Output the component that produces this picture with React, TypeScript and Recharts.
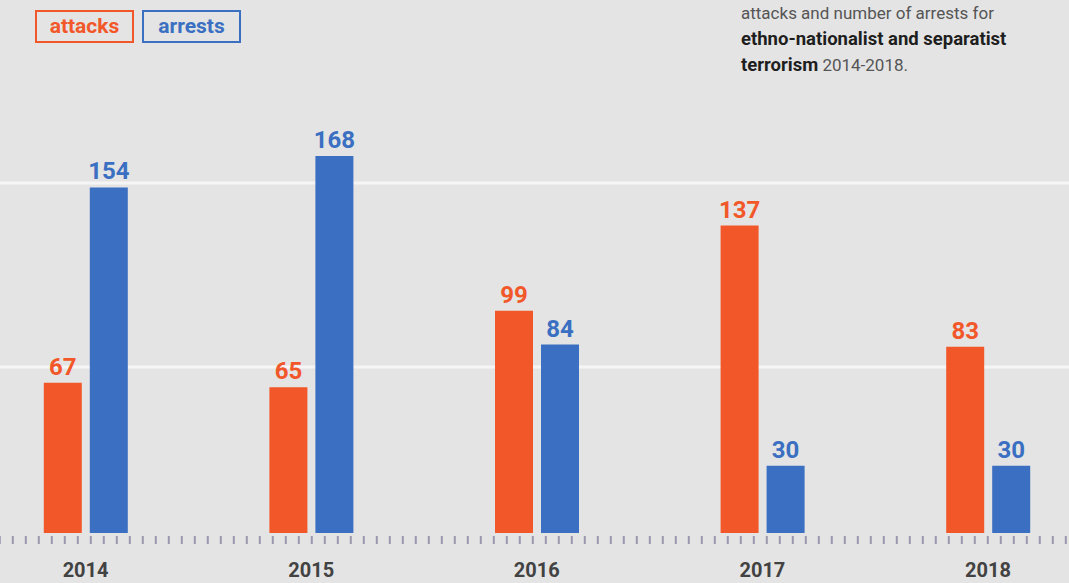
import { BarChart, Bar, XAxis, YAxis, CartesianGrid, LabelList } from 'recharts';

const years = ['2014', '2015', '2016', '2017', '2018'];
const attacks = [67, 65, 99, 137, 83];
const arrests = [154, 168, 84, 30, 30];

const ORANGE = '#f2572a';
const BLUE = '#3a6fc2';
const BG = '#e4e4e4';

const data = years.map((year, i) => ({ year, attacks: attacks[i], arrests: arrests[i] }));

const legendBox = (color: string) => ({
  position: 'absolute' as const,
  top: 10,
  height: 29,
  width: 95,
  border: `2px solid ${color}`,
  color,
  fontSize: 21,
  fontWeight: 700,
  lineHeight: '28px',
  textAlign: 'center' as const,
});

export default function App() {
  return (
    <div
      style={{
        position: 'absolute',
        top: 0,
        left: 0,
        width: 1069,
        height: 583,
        overflow: 'hidden',
        background: BG,
        fontFamily: 'Roboto, sans-serif',
      }}
    >
      <div style={{ ...legendBox(ORANGE), left: 35 }}>attacks</div>
      <div style={{ ...legendBox(BLUE), left: 142 }}>arrests</div>

      <div
        style={{
          position: 'absolute',
          left: 741,
          top: 0,
          fontSize: 17,
          lineHeight: '26px',
          color: '#555',
          whiteSpace: 'nowrap',
        }}
      >
        <div>attacks and number of arrests for</div>
        <div style={{ color: '#1e1e1e', fontWeight: 700, fontSize: 18.5 }}>ethno-nationalist and separatist</div>
        <div>
          <span style={{ color: '#1e1e1e', fontWeight: 700, fontSize: 18.5 }}>terrorism</span> 2014-2018.
        </div>
      </div>

      <div style={{ position: 'absolute', left: -40, top: 0 }}>
        <BarChart
          width={1160}
          height={583}
          data={data}
          margin={{ top: 140.3, right: 19.2, bottom: 0, left: 12.8 }}
          barSize={38}
          barGap={8}
        >
          <CartesianGrid
            vertical={false}
            horizontalPoints={[183, 367]}
            stroke="#f5f5f5"
            strokeWidth={3}
          />
          <YAxis hide domain={[-3.1, 175]} />
          <XAxis
            dataKey="year"
            height={43}
            tickLine={false}
            tickMargin={17}
            axisLine={{ stroke: '#9a98ae', strokeWidth: 8, strokeDasharray: '2 11' }}
            tick={{ fill: '#424242', fontSize: 20, fontWeight: 700 }}
          />
          <Bar dataKey="attacks" fill={ORANGE} isAnimationActive={false}>
            <LabelList dataKey="attacks" position="top" offset={8} fill={ORANGE} fontSize={24} fontWeight={700} />
          </Bar>
          <Bar dataKey="arrests" fill={BLUE} isAnimationActive={false}>
            <LabelList dataKey="arrests" position="top" offset={8} fill={BLUE} fontSize={24} fontWeight={700} />
          </Bar>
        </BarChart>
      </div>
    </div>
  );
}
